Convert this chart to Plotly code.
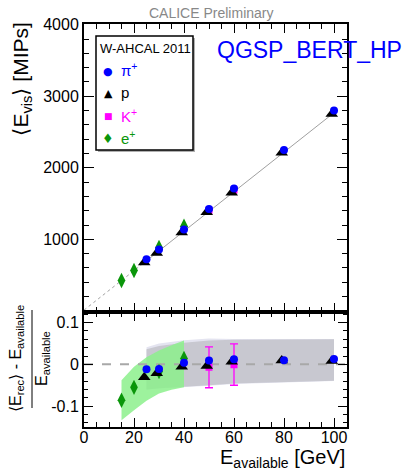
import plotly.graph_objects as go

# ---------------- data ----------------
pi_x = [25, 30, 40, 50, 60, 80, 100]
pi_vis = [722, 858, 1137, 1425, 1710, 2249, 2799]
pi_res = [-0.012, -0.011, 0.004, 0.009, 0.012, 0.010, 0.013]

p_x = [24.1, 29.1, 39.1, 49.1, 59.1, 79.1, 99.1]
p_vis = [676, 810, 1095, 1378, 1652, 2211, 2752]
p_res = [-0.031, -0.021, -0.006, -0.004, 0.006, 0.009, 0.008]

k_x = [50, 60]
k_vis = [1405, 1690]
k_res = [-0.007, -0.001]
k_err_up = [0.049, 0.050]
k_err_dn = [0.049, 0.049]

e_x = [15, 20, 30, 40]
e_vis = [425, 565, 886, 1183]
e_res = [-0.086, -0.055, -0.017, 0.014]

fit_dot_x = [0, 25]
fit_dot_y = [10, 700]
fit_x = [25, 100]
fit_y = [700, 2770]

zero_x = [0, 105.2]
zero_y = [0, 0]

# systematic bands (bottom panel)
green_x = [15, 20, 25, 30, 35, 40]
green_hi = [-0.038, -0.006, 0.017, 0.033, 0.046, 0.057]
green_lo = [-0.134, -0.110, -0.087, -0.070, -0.061, -0.055]

lav_x = [25, 30, 40, 50, 60, 80, 100]
lav_hi = [0.041, 0.050, 0.058, 0.062, 0.061, 0.061, 0.061]
lav_lo = [-0.061, -0.058, -0.054, -0.051, -0.047, -0.043, -0.040]

gray_x = [25, 30, 40, 50, 60, 80, 100]
gray_hi = [0.036, 0.044, 0.052, 0.057, 0.059, 0.060, 0.060]
gray_lo = [-0.060, -0.057, -0.053, -0.050, -0.046, -0.042, -0.039]

legend_labels = ["π<sup>+</sup>", "p", "K<sup>+</sup>", "e<sup>+</sup>"]
legend_symbols = ["●", "▲", "■", "♦"]

# ---------------- style ----------------
FONT = "Liberation Sans"
BLUE = "#0000ff"
MAG = "#ff00ff"
GREEN = "#0a960a"
legend_colors = [BLUE, "black", MAG, GREEN]
legend_sym_sizes = [11, 11, 9, 13]

fig = go.Figure()


def band(xs, hi, lo, color):
    return go.Scatter(x=xs + xs[::-1], y=hi + lo[::-1], fill="toself",
                      fillcolor=color, line=dict(width=0), mode="lines",
                      showlegend=False, hoverinfo="skip", xaxis="x2", yaxis="y2")


fig.add_trace(band(lav_x, lav_hi, lav_lo, "#e4e4f0"))
fig.add_trace(band(gray_x, gray_hi, gray_lo, "#c8c8d0"))
fig.add_trace(band(green_x, green_hi, green_lo, "rgba(140,240,140,0.85)"))
fig.add_trace(go.Scatter(x=zero_x, y=zero_y, mode="lines",
                         line=dict(color="#a8a8a8", width=2, dash="dash"),
                         showlegend=False, hoverinfo="skip", xaxis="x2", yaxis="y2"))

# fit line in top panel
fig.add_trace(go.Scatter(x=fit_dot_x, y=fit_dot_y, mode="lines",
                         line=dict(color="#a0a0a0", width=1, dash="dot"),
                         showlegend=False, hoverinfo="skip"))
fig.add_trace(go.Scatter(x=fit_x, y=fit_y, mode="lines",
                         line=dict(color="#a0a0a0", width=1),
                         showlegend=False, hoverinfo="skip"))

mk = {
    "pi": dict(symbol="circle", size=8, color=BLUE),
    "p": dict(symbol="triangle-up", size=11, color="black"),
    "k": dict(symbol="square", size=7, color=MAG),
    "e": dict(symbol="diamond-tall", size=11, color=GREEN),
}

for xa, ya, yk, ye, yp, ypi in [("x", "y", k_vis, e_vis, p_vis, pi_vis),
                                  ("x2", "y2", k_res, e_res, p_res, pi_res)]:
    err = None
    if ya == "y2":
        err = dict(type="data", array=k_err_up, arrayminus=k_err_dn,
                   color=MAG, thickness=1.3, width=4)
    fig.add_trace(go.Scatter(x=k_x, y=yk, mode="markers", marker=mk["k"], error_y=err,
                             showlegend=False, xaxis=xa, yaxis=ya, name="K+"))
    fig.add_trace(go.Scatter(x=e_x, y=ye, mode="markers", marker=mk["e"],
                             showlegend=False, xaxis=xa, yaxis=ya, name="e+"))
    fig.add_trace(go.Scatter(x=p_x, y=yp, mode="markers", marker=mk["p"],
                             showlegend=False, xaxis=xa, yaxis=ya, name="p"))
    fig.add_trace(go.Scatter(x=pi_x, y=ypi, mode="markers", marker=mk["pi"],
                             showlegend=False, xaxis=xa, yaxis=ya, name="pi+"))

axis_common = dict(showline=True, linecolor="black", linewidth=2, mirror="allticks",
                   ticks="inside", tickcolor="black", tickwidth=1, showgrid=False,
                   zeroline=False, tickfont=dict(family=FONT, size=16, color="black"))

SPLIT = 0.286
XR = [0, 105.2]

fig.update_layout(
    width=407, height=471,
    margin=dict(l=84, r=60, t=24, b=44),
    paper_bgcolor="white", plot_bgcolor="white",
    font=dict(family=FONT, color="black"),
    showlegend=False,
    xaxis=dict(axis_common, domain=[0, 1], range=XR, anchor="y", showticklabels=False,
               tick0=0, dtick=20, ticklen=9,
               minor=dict(ticks="inside", dtick=5, tick0=0, ticklen=5, tickcolor="black")),
    yaxis=dict(axis_common, domain=[SPLIT, 1], range=[-12.6, 4010], anchor="x",
               tickvals=[1000, 2000, 3000, 4000], ticklen=10,
               minor=dict(ticks="inside", dtick=200, tick0=0, ticklen=5, tickcolor="black")),
    xaxis2=dict(axis_common, domain=[0, 1], range=XR, anchor="y2",
                tick0=0, dtick=20, ticklen=9, ticklabelstandoff=-5,
                minor=dict(ticks="inside", dtick=5, tick0=0, ticklen=5, tickcolor="black")),
    yaxis2=dict(axis_common, domain=[0, SPLIT], range=[-0.150, 0.126], anchor="x2",
                tickvals=[-0.1, 0, 0.1], ticktext=["-0.1", "0", "0.1"], ticklen=9,
                minor=dict(ticks="inside", dtick=0.02, tick0=0, ticklen=4, tickcolor="black")),
)

# pixel -> paper helpers for layout placement
PL, PT, PW, PH = 84, 24, 263, 403


def px(xp):
    return (xp - PL) / PW


def py(yp):
    return (PT + PH - yp) / PH


# legend box (with ROOT-like shadow)
fig.add_shape(type="rect", xref="paper", yref="paper", x0=px(98), x1=px(195),
              y0=py(152), y1=py(38), line=dict(width=0), fillcolor="#b0b0b0")
fig.add_shape(type="rect", xref="paper", yref="paper", x0=px(96), x1=px(193),
              y0=py(150), y1=py(36), line=dict(color="black", width=1.5), fillcolor="white")

ann = []
ann.append(dict(text="W-AHCAL 2011", xref="paper", yref="paper", x=px(98), y=py(48),
                xanchor="left", yanchor="middle", showarrow=False,
                font=dict(family=FONT, size=13, color="black")))
leg_y = [71, 94, 116, 138]
for lab, sym, col, ss, yy in zip(legend_labels, legend_symbols, legend_colors,
                                 legend_sym_sizes, leg_y):
    ann.append(dict(text=sym, xref="paper", yref="paper", x=px(108), y=py(yy),
                    xanchor="center", yanchor="middle", showarrow=False,
                    font=dict(family="DejaVu Sans", size=ss, color=col)))
    ann.append(dict(text=lab, xref="paper", yref="paper", x=px(119), y=py(yy - 1),
                    xanchor="left", yanchor="middle", showarrow=False,
                    font=dict(family=FONT, size=15, color=col)))

ann.append(dict(text="CALICE Preliminary", xref="paper", yref="paper",
                x=px(211), y=py(13), xanchor="center", yanchor="middle", showarrow=False,
                font=dict(family="Liberation Sans", size=14, color="#888888")))
ann.append(dict(text="QGSP_BERT_HP", xref="paper", yref="paper", x=px(215), y=py(50),
                xanchor="left", yanchor="middle", showarrow=False,
                font=dict(family=FONT, size=23, color=BLUE)))
ann.append(dict(text="⟨E<sub>vis</sub>⟩ [MIPs]", xref="paper", yref="paper",
                x=px(21), y=py(21), xanchor="center", yanchor="top", textangle=-90,
                showarrow=False, font=dict(family=FONT, size=21)))
ann.append(dict(text="E<sub>available</sub> [GeV]", xref="paper", yref="paper",
                x=px(347), y=py(458), xanchor="right", yanchor="middle",
                showarrow=False, font=dict(family=FONT, size=20)))
ann.append(dict(text="⟨E<sub>rec</sub>⟩ - E<sub>available</sub>", xref="paper", yref="paper",
                x=px(16), y=py(359), xanchor="center", yanchor="middle", textangle=-90,
                showarrow=False, font=dict(family=FONT, size=16)))
ann.append(dict(text="E<sub>available</sub>", xref="paper", yref="paper",
                x=px(42), y=py(359), xanchor="center", yanchor="middle", textangle=-90,
                showarrow=False, font=dict(family=FONT, size=16)))
fig.update_layout(annotations=ann)

fig.add_shape(type="line", xref="paper", yref="paper", x0=px(32), x1=px(32),
              y0=py(408), y1=py(310), line=dict(color="black", width=1))

fig.write_html("out.html", config={"displayModeBar": False})
